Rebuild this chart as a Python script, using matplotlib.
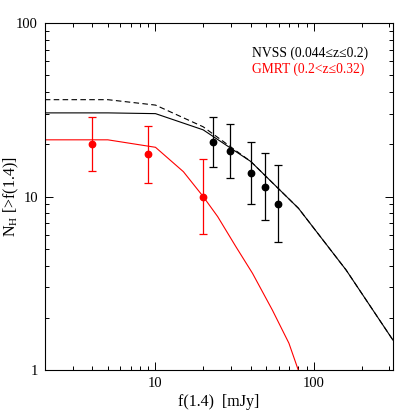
import matplotlib
matplotlib.use("Agg")
import matplotlib.pyplot as plt
from matplotlib.ticker import LogLocator, NullFormatter, FixedLocator, FixedFormatter

plt.rcParams['font.family'] = ['Liberation Serif', 'DejaVu Serif']
plt.rcParams['mathtext.fontset'] = 'custom'
plt.rcParams['mathtext.rm'] = 'Liberation Serif'

# NVSS data points (black)
nvss_x = [23, 29.5, 40, 49.5, 59.5]
nvss_y = [20.5, 18.3, 13.7, 11.4, 9.1]
nvss_lo = [14.7, 12.8, 9.1, 7.3, 5.5]
nvss_hi = [28.7, 26.0, 20.6, 17.8, 15.1]

# GMRT data points (red)
gmrt_x = [4.0, 9.0, 20.0]
gmrt_y = [20.1, 17.5, 10.0]
gmrt_lo = [14.1, 12.0, 6.1]
gmrt_hi = [28.6, 25.6, 16.4]

# model curves
solid_x = [2, 5, 10, 20, 40, 80, 160, 316]
solid_y = [30.3, 30.3, 30.0, 24.2, 15.9, 8.55, 3.77, 1.49]

dash_x = [2, 5, 10, 20, 40, 80, 160, 316]
dash_y = [36.1, 36.1, 33.6, 25.2, 15.9, 8.55, 3.77, 1.49]

red_x = [2, 5, 10, 15, 20, 24.7, 32.2, 41.0, 54.7, 69.6, 79.8]
red_y = [21.2, 21.2, 19.2, 13.9, 10.0, 7.66, 5.14, 3.61, 2.22, 1.43, 1.0]

fig = plt.figure(figsize=(4.15, 4.15), dpi=100)
ax = fig.add_axes([0.108, 0.108, 0.839, 0.837])

ax.plot(dash_x, dash_y, color="black", lw=0.8, ls=(0, (5, 3)))
ax.plot(solid_x, solid_y, color="black", lw=0.8)
ax.plot(red_x, red_y, color="red", lw=0.8)

ax.errorbar(nvss_x, nvss_y,
            yerr=[[y - l for y, l in zip(nvss_y, nvss_lo)], [h - y for y, h in zip(nvss_y, nvss_hi)]],
            fmt="o", color="black", ms=4.6, elinewidth=0.9, capsize=3, capthick=0.9)
ax.errorbar(gmrt_x, gmrt_y,
            yerr=[[y - l for y, l in zip(gmrt_y, gmrt_lo)], [h - y for y, h in zip(gmrt_y, gmrt_hi)]],
            fmt="o", color="red", ms=4.6, elinewidth=0.9, capsize=3, capthick=0.9)

ax.set_xscale("log")
ax.set_yscale("log")
ax.set_xlim(2, 10 ** 2.5)
ax.set_ylim(1, 100)

ax.xaxis.set_major_locator(FixedLocator([10, 100]))
ax.xaxis.set_major_formatter(FixedFormatter(["10", "100"]))
ax.xaxis.set_minor_locator(LogLocator(base=10, subs=range(2, 10)))
ax.xaxis.set_minor_formatter(NullFormatter())
ax.yaxis.set_major_locator(FixedLocator([1, 10, 100]))
ax.yaxis.set_major_formatter(FixedFormatter(["1", "10", "100"]))
ax.yaxis.set_minor_locator(LogLocator(base=10, subs=range(2, 10)))
ax.yaxis.set_minor_formatter(NullFormatter())

ax.tick_params(which="both", direction="in", top=True, right=True, labelsize=10.5, width=0.7)
ax.tick_params(which="major", length=6, pad=5)
ax.tick_params(which="minor", length=3.2)
for s in ax.spines.values():
    s.set_linewidth(0.8)

ax.set_xlabel("f(1.4)  [mJy]", fontsize=11.5)
ax.xaxis.set_label_coords(0.5, -0.068)
ax.set_ylabel(r"N$_{\rm H}$ [>f(1.4)]", fontsize=11.5, va="center")
ax.yaxis.set_label_coords(-0.097, 0.5)

ax.text(0.595, 0.913, "NVSS (0.044\u2264z\u22640.2)", transform=ax.transAxes,
        fontsize=9.8, color="black", va="center")
ax.text(0.595, 0.865, "GMRT (0.2<z\u22640.32)", transform=ax.transAxes,
        fontsize=9.8, color="red", va="center")

fig.savefig("out.png", dpi=100)
